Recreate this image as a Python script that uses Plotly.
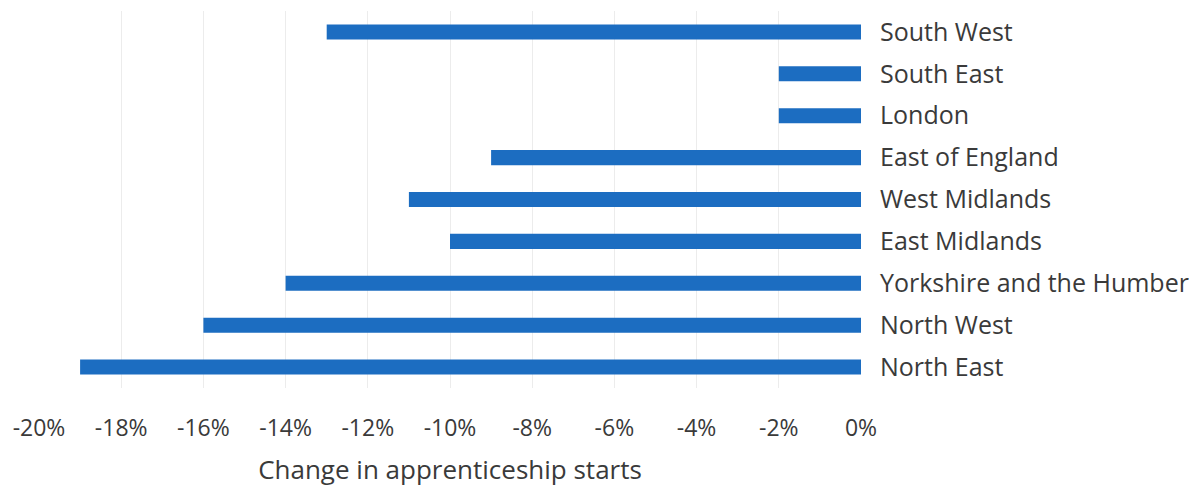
import plotly.graph_objects as go

regions = ["North East", "North West", "Yorkshire and the Humber", "East Midlands",
           "West Midlands", "East of England", "London", "South East", "South West"]
change_pct = [-19, -16, -14, -10, -11, -9, -2, -2, -13]
x_ticks = [-20, -18, -16, -14, -12, -10, -8, -6, -4, -2, 0]
x_tick_labels = [f"{v}%" for v in x_ticks]

FONT = "Open Sans"
TEXT = "#3a3a3a"

fig = go.Figure(go.Bar(
    x=change_pct, y=regions, orientation="h",
    marker=dict(color="#1c6dc1", line=dict(width=0)),
    width=0.36,
    hoverinfo="x+y",
))

# page body has an 8px default margin, so the figure is shrunk by 8px to fit the window
fig.update_layout(
    width=1189, height=481,
    margin=dict(l=31, r=336, t=3, b=101),
    paper_bgcolor="white", plot_bgcolor="white",
    font=dict(family=FONT, color=TEXT),
    showlegend=False,
    xaxis=dict(
        range=[-20, 0], tickvals=x_ticks, ticktext=x_tick_labels,
        showgrid=True, gridcolor="#ececec", gridwidth=1,
        zeroline=False, showline=False, automargin=False,
        tickfont=dict(size=23, color=TEXT),
        title=dict(text="Change in apprenticeship starts", font=dict(size=26, color=TEXT), standoff=18),
        ticklabelstandoff=24,
    ),
    yaxis=dict(
        side="right", showgrid=False, zeroline=False, showline=False, automargin=False,
        tickfont=dict(size=25, color=TEXT),
        ticklabelstandoff=18,
        range=[-0.5, 8.5],
    ),
)

fig.write_html("out.html")
